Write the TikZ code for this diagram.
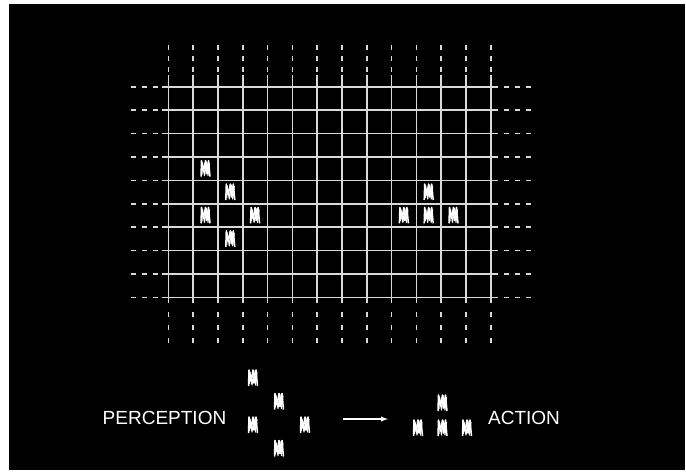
\documentclass[tikz,border=0pt]{standalone}
\usepackage{fontspec}
\setmainfont{Liberation Sans}
\usetikzlibrary{arrows}

\begin{document}
\begin{tikzpicture}[x=1pt,y=-1pt,
        gridline/.style={line width=1.6pt, white!85!black},
        toptail/.style={gridline, dash pattern=on 5pt off 6pt},
        bottail/.style={gridline, dash pattern=on 5pt off 8pt},
        mite/.style={minimum width=11pt, minimum height=19pt, inner sep=0pt,
            path picture={
                \begin{scope}[shift={(path picture bounding box.center)}]
                    \draw[white, line width=1.5pt, line join=round] (-4.5,8) -- (-4,-8) -- (-2,3) -- (0,-8) -- (1,5) -- (3,-8) -- (4.5,8);
                    \draw[white, line width=1.1pt, line join=round] (-3.5,6) -- (-3,-6) -- (-1,7) -- (1,-7) -- (2.5,7) -- (4,-6);
                \end{scope}}},
        wordlabel/.style={text=white, inner sep=0pt, font=\fontsize{19}{19}\selectfont}]
        % frame
        \fill[white] (0,0) rectangle (686,472);
        \fill[black] (9,4) rectangle (685,470);

        % grid with dashed ends
        \foreach \i in {0,...,13} {
            \draw[gridline] (168.3+24.8*\i,75) -- (168.3+24.8*\i,303);
            \draw[toptail] (168.3+24.8*\i,45) -- (168.3+24.8*\i,72);
            \draw[bottail] (168.3+24.8*\i,312) -- (168.3+24.8*\i,345);
        }
        \foreach \j in {0,...,9} {
            \draw[gridline] (162,86.7+23.4*\j) -- (498,86.7+23.4*\j);
            \draw[toptail] (131,86.7+23.4*\j) -- (158,86.7+23.4*\j);
            \draw[toptail] (504,86.7+23.4*\j) -- (532,86.7+23.4*\j);
        }

        % cells on the grid
        \foreach \c/\r in {1/3,2/4,1/5,3/5,2/6} {
            \node[mite] (p\c\r) at (180.7+24.8*\c,98.4+23.4*\r) {};
        }
        \foreach \c/\r in {10/4,9/5,10/5,11/5} {
            \node[mite] (a\c\r) at (180.7+24.8*\c,98.4+23.4*\r) {};
        }

        % legend
        \node[wordlabel] (perception) at (164.5,418) {PERCEPTION};
        \foreach \c/\r in {0/0,1/1,0/2,2/2,1/3} {
            \node[mite] (q\c\r) at (253+26*\c,378+23.5*\r) {};
        }
        \coordinate (arrowtail) at (343,419);
        \coordinate (arrowtip) at (388,419);
        \draw[white, line width=1.4pt, -latex] (arrowtail) -- (arrowtip);
        \foreach \c/\r in {1/0,0/1,1/1,2/1} {
            \node[mite] (b\c\r) at (418+24.5*\c,403+25*\r) {};
        }
        \node[wordlabel] (action) at (524,418) {ACTION};
    \end{tikzpicture}
\end{document}
